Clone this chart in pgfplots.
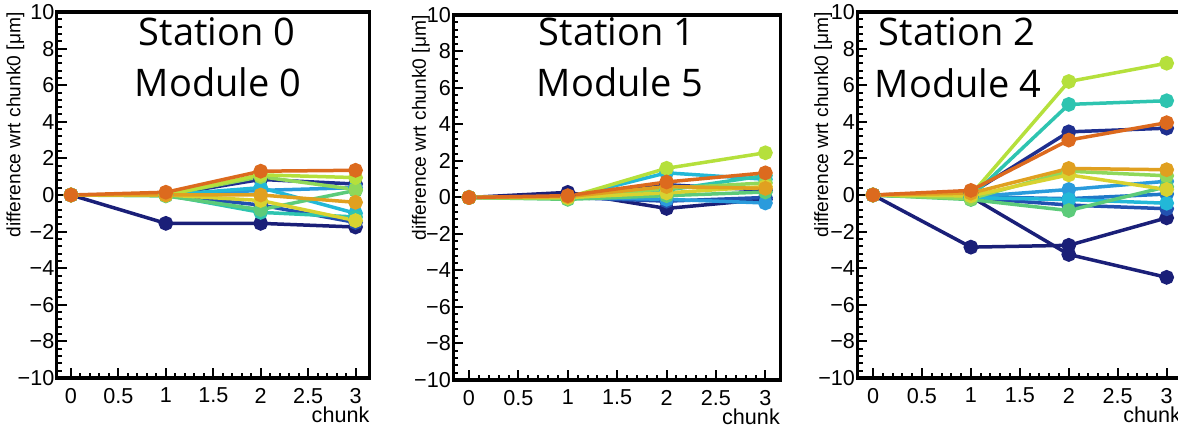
\documentclass[border=0pt]{standalone}
\usepackage{pgfplots}
\pgfplotsset{compat=1.18}
\usepackage{fontspec}
\setmainfont{Liberation Sans}
\newfontfamily\annot{Open Sans}
\definecolor{cA}{HTML}{1A1F78}
\definecolor{cB}{HTML}{1F2F8F}
\definecolor{cC}{HTML}{2250B0}
\definecolor{cD}{HTML}{1F78C8}
\definecolor{cE}{HTML}{2A9BDC}
\definecolor{cF}{HTML}{22B8D8}
\definecolor{cG}{HTML}{2EC4B0}
\definecolor{cH}{HTML}{5CCB7A}
\definecolor{cI}{HTML}{8FD85A}
\definecolor{cJ}{HTML}{B5E03C}
\definecolor{cK}{HTML}{D8D230}
\definecolor{cL}{HTML}{E0A020}
\definecolor{cM}{HTML}{DC6A1E}
\pgfplotsset{
  panel/.style={
    scale only axis,
    ymin=-10, ymax=10,
    xtick={0,0.5,1,1.5,2,2.5,3},
    xticklabels={0,0.5,1,1.5,2,2.5,3},
    ytick={-10,-8,-6,-4,-2,0,2,4,6,8,10},
    yticklabels={−10,−8,−6,−4,−2,0,2,4,6,8,10},
    minor x tick num=4, minor y tick num=4,
    tick align=inside,
    xtick pos=lower, ytick pos=left,
    major tick length=5pt, minor tick length=2.6pt,
    axis line style={line width=1.6pt},
    every tick/.style={black, line width=1pt},
    tick label style={font=\fontsize{10.8}{12}\selectfont},
    xticklabel style={yshift=-1.5pt},
    yticklabel style={inner sep=1pt},
    every axis x label/.style={at={(axis description cs:1,0)}, anchor=north east, inner sep=0pt, yshift=-14pt, font=\fontsize{10.8}{12}\selectfont},
    xlabel={chunk},
    ylabel={difference wrt chunk0 [μm]},
    clip=false,
    anchor=origin,
  },
  ser/.style={color=#1, line width=1.75pt, mark=*, mark size=2.8pt, mark options={solid}},
}
\begin{document}
\begin{tikzpicture}
% ---------------- Panel 1 ----------------
\begin{axis}[panel, at={(35.5pt,118.5pt)}, width=156.5pt, height=183pt,
  xmin=-0.15, xmax=3.15,
  every axis y label/.style={at={(axis description cs:-0.102,1)}, rotate=90, anchor=south east, inner sep=0pt, font=\fontsize{9.6}{11}\selectfont}]
\addplot[ser=cA] coordinates {(0,0) (1,-1.55) (2,-1.55) (3,-1.75)};
\addplot[ser=cB] coordinates {(0,0) (1,0.0) (2,0.85) (3,0.6)};
\addplot[ser=cC] coordinates {(0,0) (1,0.0) (2,-0.55) (3,-1.5)};
\addplot[ser=cE] coordinates {(0,0) (1,0.0) (2,0.25) (3,0.4)};
\addplot[ser=cF] coordinates {(0,0) (1,0.0) (2,0.4) (3,-1.0)};
\addplot[ser=cG] coordinates {(0,0) (1,0.0) (2,-0.95) (3,-1.2)};
\addplot[ser=cH] coordinates {(0,0) (1,-0.05) (2,-0.8) (3,0.25)};
\addplot[ser=cI] coordinates {(0,0) (1,0.0) (2,1.0) (3,0.3)};
\addplot[ser=cJ] coordinates {(0,0) (1,0.0) (2,1.1) (3,0.95)};
\addplot[ser=cK] coordinates {(0,0) (1,0.0) (2,-0.3) (3,-1.4)};
\addplot[ser=cL] coordinates {(0,0) (1,0.0) (2,0.0) (3,-0.4)};
\addplot[ser=cM] coordinates {(0,0) (1,0.15) (2,1.3) (3,1.35)};
\end{axis}
% ---------------- Panel 2 ----------------
\begin{axis}[panel, at={(234.5pt,117.25pt)}, width=163.5pt, height=182.5pt,
  xmin=-0.16, xmax=3.15,
  every axis y label/.style={at={(axis description cs:-0.07,1)}, rotate=90, anchor=south east, inner sep=0pt, font=\fontsize{9.6}{11}\selectfont}]
\addplot[ser=cA] coordinates {(0,0) (1,0.28) (2,-0.6) (3,-0.1)};
\addplot[ser=cB] coordinates {(0,0) (1,0.1) (2,0.7) (3,0.4)};
\addplot[ser=cC] coordinates {(0,0) (1,0.0) (2,-0.2) (3,0.0)};
\addplot[ser=cE] coordinates {(0,0) (1,0.0) (2,-0.1) (3,-0.3)};
\addplot[ser=cF] coordinates {(0,0) (1,0.0) (2,1.35) (3,1.0)};
\addplot[ser=cG] coordinates {(0,0) (1,0.0) (2,0.4) (3,1.2)};
\addplot[ser=cH] coordinates {(0,0) (1,-0.1) (2,0.1) (3,0.3)};
\addplot[ser=cI] coordinates {(0,0) (1,-0.05) (2,0.5) (3,0.8)};
\addplot[ser=cJ] coordinates {(0,0) (1,0.0) (2,1.6) (3,2.45)};
\addplot[ser=cK] coordinates {(0,0) (1,0.0) (2,0.25) (3,0.6)};
\addplot[ser=cL] coordinates {(0,0) (1,0.05) (2,0.6) (3,0.5)};
\addplot[ser=cM] coordinates {(0,0) (1,0.1) (2,0.85) (3,1.35)};
\end{axis}
% ---------------- Panel 3 ----------------
\begin{axis}[panel, at={(436.5pt,118.5pt)}, width=162pt, height=183pt,
  xmin=-0.16, xmax=3.15,
  every axis y label/.style={at={(axis description cs:-0.077,1)}, rotate=90, anchor=south east, inner sep=0pt, font=\fontsize{9.6}{11}\selectfont}]
\addplot[ser=cA] coordinates {(0,0) (1,-2.85) (2,-2.75) (3,-1.25)};
\addplot[ser=cA] coordinates {(0,0) (1,-0.1) (2,-3.25) (3,-4.5)};
\addplot[ser=cB] coordinates {(0,0) (1,0.1) (2,3.45) (3,3.65)};
\addplot[ser=cC] coordinates {(0,0) (1,-0.15) (2,-0.55) (3,-0.75)};
\addplot[ser=cD] coordinates {(0,0) (1,-0.1) (2,-0.2) (3,0.05)};
\addplot[ser=cE] coordinates {(0,0) (1,-0.1) (2,0.3) (3,0.75)};
\addplot[ser=cF] coordinates {(0,0) (1,-0.15) (2,-0.25) (3,-0.45)};
\addplot[ser=cG] coordinates {(0,0) (1,-0.1) (2,4.95) (3,5.15)};
\addplot[ser=cH] coordinates {(0,0) (1,-0.25) (2,-0.85) (3,0.45)};
\addplot[ser=cI] coordinates {(0,0) (1,-0.2) (2,1.3) (3,1.05)};
\addplot[ser=cJ] coordinates {(0,0) (1,0.0) (2,6.2) (3,7.2)};
\addplot[ser=cK] coordinates {(0,0) (1,-0.05) (2,1.1) (3,0.3)};
\addplot[ser=cL] coordinates {(0,0) (1,0.1) (2,1.45) (3,1.38)};
\addplot[ser=cM] coordinates {(0,0) (1,0.25) (2,3.0) (3,3.95)};
\end{axis}
% ---------------- Annotations ----------------
\begin{scope}[x=0.5pt,y=0.5pt]
\node[font=\annot\fontsize{19}{22}\selectfont] at (217,400) {Station 0};
\node[font=\annot\fontsize{19}{22}\selectfont] at (218,350) {Module 0};
\node[font=\annot\fontsize{19}{22}\selectfont] at (617,400) {Station 1};
\node[font=\annot\fontsize{19}{22}\selectfont] at (620,350) {Module 5};
\node[font=\annot\fontsize{19}{22}\selectfont] at (957,400) {Station 2};
\node[font=\annot\fontsize{19}{22}\selectfont] at (958,349) {Module 4};
\pgfresetboundingbox
\path[use as bounding box] (0,0) rectangle (1178,432);
\end{scope}
\end{tikzpicture}
\end{document}
